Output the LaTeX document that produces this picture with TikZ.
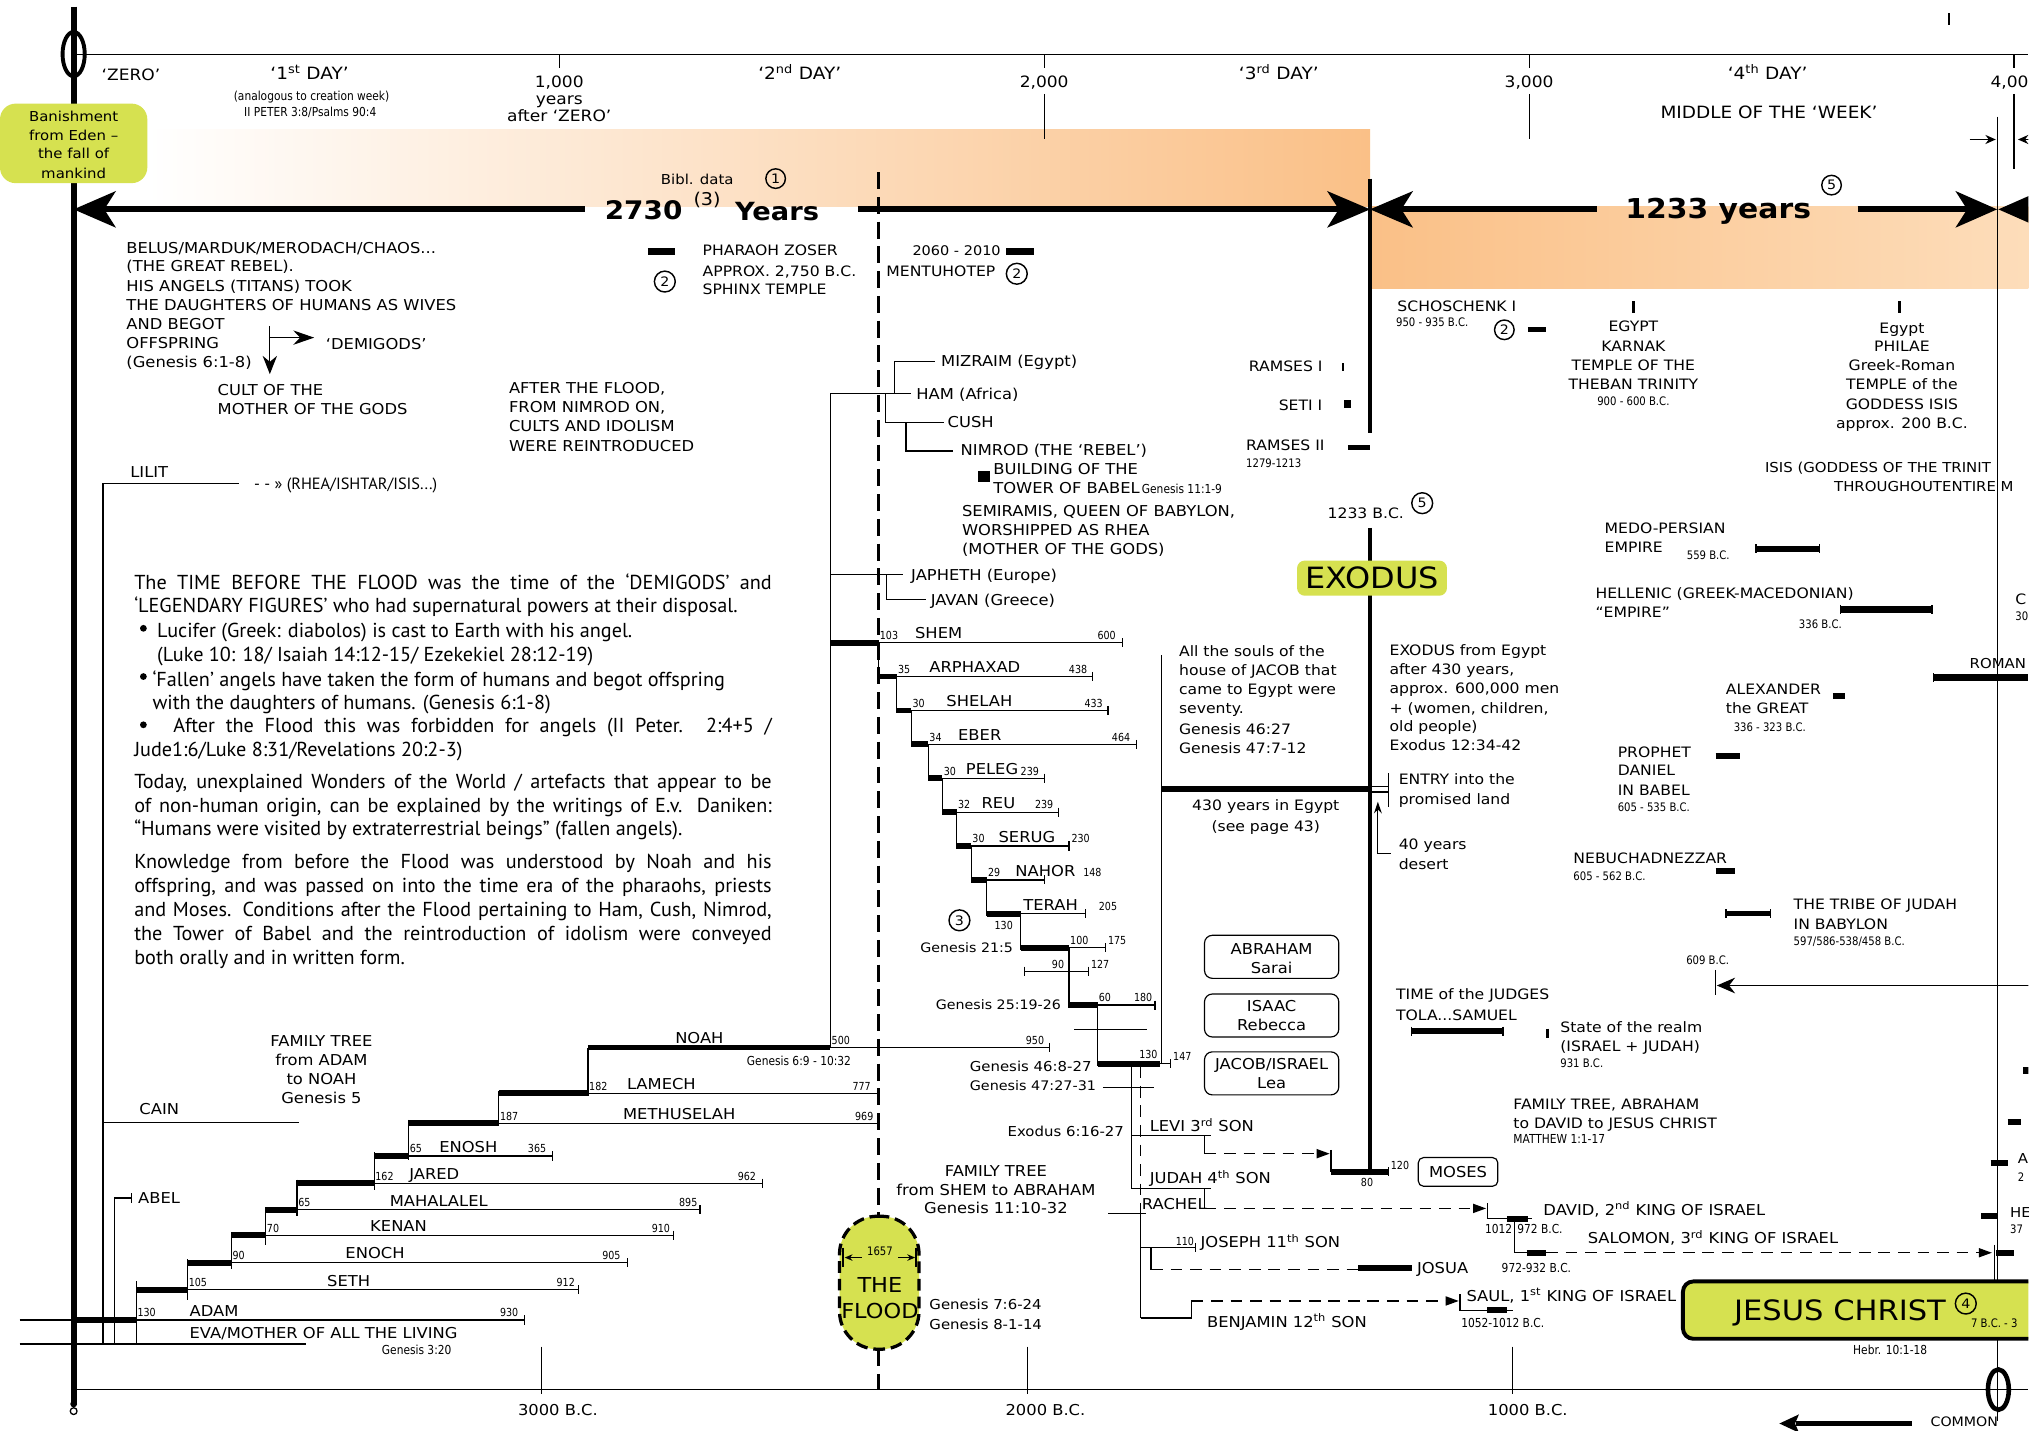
\documentclass[tikz,border=0pt]{standalone}
\usepackage{fontspec}
\usepackage{graphicx}
\setmainfont{DejaVu Sans}
\newfontfamily\comic{DejaVu Sans}[FakeStretch=1.09]
\newfontfamily\comicn{DejaVu Sans}[FakeStretch=0.86]
\newfontfamily\para{PT Sans}
\usetikzlibrary{arrows.meta}
\definecolor{limeg}{RGB}{214,225,80}
\definecolor{orng}{RGB}{250,192,135}
\definecolor{orngl}{RGB}{253,221,186}
\newcounter{nn}
\tikzset{
  lb/.style={inner sep=0pt,outer sep=0pt},
  thinln/.style={line width=0.9pt},
  barln/.style={line width=4.5pt},
  dashln/.style={line width=1pt,dash pattern=on 9pt off 6pt},
  boxr/.style={draw,line width=0.9pt,rounded corners=6pt,minimum width=103pt,minimum height=33pt,inner sep=0pt},
  cnum/.style={circle,draw,line width=1.1pt,inner sep=0pt,font=\comic\fontsize{10}{10}\selectfont},
}
\newcommand\TL[5][\comic]{\stepcounter{nn}\node[lb,anchor=base west,font={#1\fontsize{#2}{#2}\selectfont}] (n\arabic{nn}) at ({#3},{#4+0.36*#2}) {#5};}
\newcommand\TC[5][\comic]{\stepcounter{nn}\node[lb,anchor=base,font={#1\fontsize{#2}{#2}\selectfont}] (n\arabic{nn}) at ({#3},{#4+0.36*#2}) {#5};}
\newcommand\TR[5][\comic]{\stepcounter{nn}\node[lb,anchor=base east,font={#1\fontsize{#2}{#2}\selectfont}] (n\arabic{nn}) at ({#3},{#4+0.36*#2}) {#5};}
\newcommand\PL[3]{\stepcounter{nn}\node[lb,anchor=base west,font=\para\fontsize{15.5}{15.5}\selectfont] (n\arabic{nn}) at ({#1},{#2+4.6}) {#3};}
\newcommand\PJ[4]{\stepcounter{nn}\node[lb,anchor=base west,font=\para\fontsize{15.5}{15.5}\selectfont] (n\arabic{nn}) at ({#1},{#2+4.6}) {\makebox[#3pt][s]{#4}};}
\newcommand\CN[4][15]{\stepcounter{nn}\node[cnum,minimum size=#1pt] (n\arabic{nn}) at (#2,#3) {#4};}
\newcommand\Tk[2]{\draw[thinln] (#1,{#2-3.5}) -- (#1,{#2+3.5});}
\newcommand\Row[9]{%
  \draw[barln] (#1,#4) -- (#2,#4);
  \draw[thinln] (#2,#4) -- (#3,#4) (#3,{#4-3.5}) -- (#3,{#4+3.5});
  \TL[\comicn]{8.5}{#2+1}{#4-5.5}{#5}
  \TL{11.5}{#7}{#4-7}{#6}
  \TL[\comicn]{8.5}{#9}{#4-5.5}{#8}
}
\begin{document}
\begin{tikzpicture}[x=1pt,y=-1pt]
\useasboundingbox (0,0) rectangle (1568,1097);
\fill[white] (0,0) rectangle (1568,1097);
\clip (0,0) rectangle (1556,1097);

% ---------- colour bands
\shade[left color=white,right color=orng] (113,99) rectangle (1051,158.5);
\shade[left color=orng,right color=orngl] (1051,158.5) rectangle (1556,221);

% ---------- top axis
\draw[thinln] (56.5,42) -- (1556,42);
\draw[thinln] (429,42) -- (429,52);
\draw[thinln] (801,42) -- (801,52) (801,72) -- (801,107);
\draw[thinln] (1173,42) -- (1173,52) (1173,72) -- (1173,107);
\draw[thinln] (1545,42) -- (1545,52) (1545,72) -- (1545,130);
\draw[line width=1.8pt] (1495,10) -- (1495,19);
\draw[thinln] (1532,89.5) -- (1532,1090);
\draw[thinln,-{Stealth[length=8pt,width=7pt]}] (1511,107) -- (1531,107);
\draw[thinln,-{Stealth[length=8pt,width=7pt]}] (1568,107) -- (1548,107);

\TC{12}{100.5}{57.5}{‘ZERO’}
\TC{13}{237.5}{56}{‘1\textsuperscript{st} DAY’}
\TC[\comicn]{9.5}{239}{74}{(analogous to creation week)}
\TC[\comicn]{9.5}{238}{86}{II PETER 3:8/Psalms 90:4}
\TC{12}{429}{63}{1,000}
\TC{12}{429}{76}{years}
\TC{12}{429}{89}{after ‘ZERO’}
\TC{13}{613.5}{56}{‘2\textsuperscript{nd} DAY’}
\TC{12}{801}{63}{2,000}
\TC{13}{981}{56}{‘3\textsuperscript{rd} DAY’}
\TC{12}{1173}{63}{3,000}
\TC{13}{1356}{56}{‘4\textsuperscript{th} DAY’}
\TC{13}{1357}{86.4}{MIDDLE OF THE ‘WEEK’}
\TL{12}{1527}{63}{4,00}

% ---------- main left line
\draw[line width=4.5pt] (56.5,5) -- (56.5,1078);
\draw[line width=3pt] (56.5,41.5) ellipse [x radius=8.5,y radius=17];
\fill (56.5,1077) circle (2.6);
\draw[line width=1pt] (56.5,1082.5) circle (2.6);

% ---------- Banishment
\node[fill=limeg,rounded corners=12pt,minimum width=113pt,minimum height=61pt,inner sep=0pt] (ban) at (56.5,110) {};
\TC{10.5}{56.5}{89.5}{Banishment}
\TC{10.5}{56.5}{104}{from Eden –}
\TC{10.5}{56.5}{118}{the fall of}
\TC{10.5}{56.5}{133}{mankind}

% ---------- big arrows
\draw[line width=4.5pt] (78,160.6) -- (449,160.6);
\fill (56.5,160.6) -- (89,146.5) -- (80,160.6) -- (89,174.7) -- cycle;
\draw[line width=4.5pt] (658,160.6) -- (1028,160.6);
\fill (1051,160.6) -- (1018,146.5) -- (1027,160.6) -- (1018,174.7) -- cycle;
\draw[line width=4.5pt] (1074,160.6) -- (1225,160.6);
\fill (1051,160.6) -- (1084,146.5) -- (1075,160.6) -- (1084,174.7) -- cycle;
\draw[line width=4.5pt] (1425,160.6) -- (1510,160.6);
\fill (1532,160.6) -- (1500,146.5) -- (1509,160.6) -- (1500,174.7) -- cycle;
\fill (1533,160.6) -- (1565,146.5) -- (1556,160.6) -- (1565,174.7) -- cycle;
\draw[line width=3.5pt] (1051,137) -- (1051,332) (1051,405) -- (1051,899);

\TL[\comic\bfseries]{19.6}{464}{161}{2730}
\TL{13.5}{532}{153}{(3)}
\TL[\comic\bfseries]{19.2}{564}{162}{Years}
\TL{10.5}{507}{138}{Bibl. data}
\CN{595}{137}{1}
\TC[\comic\bfseries]{21}{1318}{160}{1233 years}
\CN{1405}{142}{5}

% ---------- left texts
\TL{11.5}{97}{190.5}{BELUS/MARDUK/MERODACH/CHAOS...}
\TL{11.5}{97}{204.5}{(THE GREAT REBEL).}
\TL{11.5}{97}{219.4}{HIS ANGELS (TITANS) TOOK}
\TL{11.5}{97}{234}{THE DAUGHTERS OF HUMANS AS WIVES}
\TL{11.5}{97}{248.5}{AND BEGOT}
\TL{11.5}{97}{263}{OFFSPRING}
\TL{11.5}{97}{278}{(Genesis 6:1-8)}
\draw[thinln,-{Stealth[length=14pt,width=11pt]}] (207,250) -- (207,287);
\draw[thinln,-{Stealth[length=16pt,width=11pt]}] (207,259) -- (241,259);
\TL{11.5}{250}{264}{‘DEMIGODS’}
\TL{11.5}{167}{299}{CULT OF THE}
\TL{11.5}{167}{314}{MOTHER OF THE GODS}
\TL{11.5}{390.5}{298}{AFTER THE FLOOD,}
\TL{11.5}{390.5}{312.5}{FROM NIMROD ON,}
\TL{11.5}{390.5}{327}{CULTS AND IDOLISM}
\TL{11.5}{390.5}{342}{WERE REINTRODUCED}
\TL{11.5}{100}{362}{LILIT}
\draw[thinln] (183,371) -- (79,371) -- (79,1031);
\TL[\para]{12.5}{195}{371}{- - » (RHEA/ISHTAR/ISIS...)}

% ---------- paragraph
\PJ{103}{447.5}{489}{The TIME BEFORE THE FLOOD was the time of the ‘DEMIGODS’ and}
\PL{103}{465.4}{‘LEGENDARY FIGURES’ who had supernatural powers at their disposal.}
\fill (110,482) circle (2.6);
\PL{120.6}{484.6}{Lucifer (Greek: diabolos) is cast to Earth with his angel.}
\PL{120.6}{502.5}{(Luke 10: 18/ Isaiah 14:12-15/ Ezekekiel 28:12-19)}
\fill (110,519) circle (2.6);
\PL{117}{521.7}{‘Fallen’ angels have taken the form of humans and begot offspring}
\PL{117}{539.6}{with the daughters of humans. (Genesis 6:1-8)}
\fill (110,556) circle (2.6);
\PJ{133}{557.5}{459}{After the Flood this was forbidden for angels (II Peter. 2:4+5 /}
\PL{103}{575.9}{Jude1:6/Luke 8:31/Revelations 20:2-3)}
\PJ{103}{600.4}{489}{Today, unexplained Wonders of the World / artefacts that appear to be}
\PJ{103}{618.8}{489}{of non-human origin, can be explained by the writings of E.v. Daniken:}
\PL{103}{636.7}{“Humans were visited by extraterrestrial beings” (fallen angels).}
\PJ{103}{661.8}{489}{Knowledge from before the Flood was understood by Noah and his}
\PJ{103}{680.3}{489}{offspring, and was passed on into the time era of the pharaohs, priests}
\PJ{103}{698.1}{489}{and Moses. Conditions after the Flood pertaining to Ham, Cush, Nimrod,}
\PJ{103}{716.5}{489}{the Tower of Babel and the reintroduction of idolism were conveyed}
\PL{103}{735.2}{both orally and in written form.}

% ---------- Adam family tree
\TC{11.5}{246.6}{798.5}{FAMILY TREE}
\TC{11.5}{246.6}{813}{from ADAM}
\TC{11.5}{246.6}{827.7}{to NOAH}
\TC{11.5}{246.6}{842}{Genesis 5}
\TL{11.5}{107}{851}{CAIN}
\draw[thinln] (79,861) -- (229,861);
\draw[thinln] (88,1031) -- (88,919) -- (101,919);
\Tk{101}{919}
\TL{11.5}{106}{919}{ABEL}
\draw[thinln] (15,1031) -- (234.6,1031);
\draw[thinln] (15,1012.6) -- (56.5,1012.6);
\TL{11.5}{145.5}{1023}{EVA/MOTHER OF ALL THE LIVING}
\TL[\comicn]{9.5}{293}{1035.6}{Genesis 3:20}

\Row{56.5}{104.5}{402.4}{1012.6}{130}{ADAM}{145.5}{930}{383.6}
\Row{104.5}{143.8}{443.5}{989.5}{105}{SETH}{251}{912}{427}
\Row{143.8}{177.4}{481.2}{968.6}{90}{ENOCH}{265}{905}{462}
\Row{177.4}{203.8}{516.5}{947.6}{70}{KENAN}{284}{910}{500}
\Row{203.8}{227.8}{537}{928}{65}{MAHALALEL}{299}{895}{521}
\Row{227.8}{287}{585}{907.7}{162}{JARED}{314}{962}{566}
\Row{287}{313.4}{423.7}{886.8}{65}{ENOSH}{337}{365}{405}
\Row{313.4}{382.6}{674}{861.7}{187}{METHUSELAH}{478}{969}{656}
\Row{382.6}{451}{674}{838.7}{182}{LAMECH}{481}{777}{654}
\Row{451}{637}{805}{803.6}{500}{NOAH}{518}{950}{787}
\draw[thinln] (104.5,983) -- (104.5,1031) (143.8,966) -- (143.8,997)
  (177.4,945.6) -- (177.4,973.7) (203.8,926) -- (203.8,955)
  (227.8,905) -- (227.8,933) (287,884) -- (287,913)
  (313.4,859) -- (313.4,889.5) (382.6,837) -- (382.6,864)
  (451,803.6) -- (451,841);
\TL[\comicn]{9.5}{573}{814}{Genesis 6:9 - 10:32}

% ---------- flood line and box
\draw[line width=2.3pt,dash pattern=on 13pt off 6pt] (674,132) -- (674,933) (674,1035) -- (674,1066);
\node[fill=limeg,draw,line width=2.5pt,dash pattern=on 9pt off 4.5pt,rounded corners=29pt,minimum width=61pt,minimum height=102pt,inner sep=0pt] (flood) at (674.5,984) {};
\TC[\comicn]{9}{675}{960}{1657}
\draw[thinln,-{Stealth[length=6pt,width=5pt]}] (661,964.7) -- (648,964.7);
\draw[thinln,-{Stealth[length=6pt,width=5pt]}] (689,964.7) -- (702,964.7);
\draw[line width=1.5pt] (646.5,957) -- (646.5,972) (703,957) -- (703,972);
\TC{15.8}{675}{986}{THE}
\TC{15.8}{675}{1006}{FLOOD}
\TL{10.5}{713}{1001}{Genesis 7:6-24}
\TL{10.5}{713}{1016}{Genesis 8-1-14}

% ---------- top middle
\draw[line width=5pt] (497,193) -- (518,193);
\CN[16]{510}{216}{2}
\TL{11}{539}{192}{PHARAOH ZOSER}
\TL{11}{539}{208}{APPROX. 2,750 B.C.}
\TL{11}{539}{222}{SPHINX TEMPLE}
\TL{10.2}{700}{192}{2060 - 2010}
\draw[line width=5pt] (772,193) -- (793,193);
\TL{11}{680}{208}{MENTUHOTEP}
\CN[16]{780}{210}{2}

% ---------- sons of Noah
\draw[thinln] (637,302) -- (637,803.6);
\draw[thinln] (637,302) -- (699,302);
\draw[thinln] (686,302) -- (686,277) -- (717,277);
\draw[thinln] (679,302) -- (679,324) -- (724,324);
\draw[thinln] (695,324) -- (695,346) -- (731,346);
\TL{11.5}{722}{277}{MIZRAIM (Egypt)}
\TL{11.5}{703}{302}{HAM (Africa)}
\TL{11.5}{727}{324}{CUSH}
\TL{11.5}{737}{345}{NIMROD (THE ‘REBEL’)}
\fill (750,361) rectangle (759.5,370);
\TL{11.5}{762}{360}{BUILDING OF THE}
\TL{11.5}{762}{374.6}{TOWER OF BABEL}
\TL[\comicn]{9.5}{876}{375}{Genesis 11:1-9}
\TL{11.5}{738}{391.8}{SEMIRAMIS, QUEEN OF BABYLON,}
\TL{11.5}{738}{406.6}{WORSHIPPED AS RHEA}
\TL{11.5}{738}{421.4}{(MOTHER OF THE GODS)}
\draw[thinln] (637,441) -- (693,441);
\draw[thinln] (680,441) -- (680,460) -- (710,460);
\TL{11.5}{699}{441}{JAPHETH (Europe)}
\TL{11.5}{714}{460}{JAVAN (Greece)}

% ---------- Shem family tree
\Row{637}{674}{861}{493}{103}{SHEM}{702}{600}{842}
\Row{674}{688}{838}{519}{35}{ARPHAXAD}{713}{438}{820}
\Row{688}{699}{850}{545}{30}{SHELAH}{726}{433}{832}
\Row{699}{712}{872}{571}{34}{EBER}{735}{464}{853}
\Row{712}{723}{801}{597}{30}{PELEG}{741}{239}{783}
\Row{723}{734}{812}{623}{32}{REU}{753}{239}{794}
\Row{734}{745}{820}{649}{30}{SERUG}{766}{230}{822}
\Row{745}{757}{801}{675}{29}{NAHOR}{779}{148}{831}
\Row{757}{783}{833}{701}{}{TERAH}{785}{205}{843}
\TL[\comicn]{8.5}{763}{710}{130}
\Row{783}{820}{848}{727}{100}{}{800}{175}{850}
\draw[thinln] (786,745) -- (835,745);
\Tk{786}{745}
\Tk{835}{745}
\TL[\comicn]{8.5}{807}{740}{90}
\TL[\comicn]{8.5}{837}{740}{127}
\Row{820}{842}{886}{771}{60}{}{800}{180}{870}
\draw[thinln] (824,790) -- (880,790);
\Row{842}{890}{898}{816}{}{}{800}{147}{900}
\TL[\comicn]{8.5}{874}{809}{130}
\draw[thinln] (674,493) -- (674,521) (688,519) -- (688,547) (699,545) -- (699,573)
  (712,571) -- (712,599) (723,597) -- (723,625) (734,623) -- (734,651)
  (745,649) -- (745,677) (757,675) -- (757,703) (783,701) -- (783,729)
  (820,727) -- (820,773) (842,771) -- (842,818);
\CN[16]{736}{706}{3}
\TL{10}{706}{727}{Genesis 21:5}
\TL{10}{718}{771}{Genesis 25:19-26}
\TL{10.5}{744}{818}{Genesis 46:8-27}
\TL{10.1}{744}{833}{Genesis 47:27-31}
\draw[thinln] (846,834) -- (885,834);
\TL{10.5}{773}{868}{Exodus 6:16-27}
\TC{11.5}{764}{898}{FAMILY TREE}
\TC{11.5}{764}{913}{from SHEM to ABRAHAM}
\TC{11.5}{764}{927}{Genesis 11:10-32}

% ---------- boxes Abraham Isaac Jacob
\node[boxr] (abr) at (975.5,734) {};
\TC{11.5}{975.5}{728}{ABRAHAM}
\TC{11.5}{975.5}{743}{Sarai}
\node[boxr] (isa) at (975.5,779) {};
\TC{11.5}{975.5}{771.7}{ISAAC}
\TC{11.5}{975.5}{786}{Rebecca}
\node[boxr] (jac) at (975.5,823.4) {};
\TC{11.5}{975.5}{816.5}{JACOB/ISRAEL}
\TC{11.5}{975.5}{831}{Lea}

% ---------- Egypt / Exodus column
\draw[thinln] (891,502.5) -- (891,816);
\draw[barln] (891,605) -- (1051,605);
\TL{11}{904.5}{500}{All the souls of the}
\TL{11}{904.5}{514.5}{house of JACOB that}
\TL{11}{904.5}{529}{came to Egypt were}
\TL{11}{904.5}{543.4}{seventy.}
\TL{11}{904.5}{559.5}{Genesis 46:27}
\TL{11}{904.5}{574}{Genesis 47:7-12}
\TC{11}{971}{618}{430 years in Egypt}
\TC{11}{971}{634}{(see page 43)}
\draw[thinln] (1051,603.5) -- (1065,603.5) (1051,607.5) -- (1065,607.5) (1065,593) -- (1065,619);
\draw[thinln,-{Stealth[length=9pt,width=6pt]}] (1067,655) -- (1057,655) -- (1057,615);
\TL{11}{1073}{598}{ENTRY into the}
\TL{11}{1073}{613}{promised land}
\TL{11}{1073}{648}{40 years}
\TL{11}{1073}{663}{desert}
\TL{11}{1066}{499}{EXODUS from Egypt}
\TL{11}{1066}{513.5}{after 430 years,}
\TL{11}{1066}{528}{approx. 600,000 men}
\TL{11}{1066}{543}{+ (women, children,}
\TL{11}{1066}{557.5}{old people)}
\TL{11}{1066}{571.5}{Exodus 12:34-42}
\node[fill=limeg,rounded corners=6pt,minimum width=115pt,minimum height=27pt,inner sep=0pt] (exo) at (1052.5,443.5) {};
\TC{22.5}{1052.5}{443.5}{EXODUS}
\TR{11}{1077}{394}{1233 B.C.}
\CN[16]{1091}{386}{5}

% ---------- pharaohs
\TL{11}{958}{281}{RAMSES I}
\draw[line width=1.6pt] (1030,278.5) -- (1030,284.5);
\TL{11}{981}{311}{SETI I}
\fill (1031,307) rectangle (1036,313);
\TL{11}{956}{342}{RAMSES II}
\TL[\comicn]{9}{956}{355.5}{1279-1213}
\draw[line width=4pt] (1034,343) -- (1051,343);

% ---------- right column, top
\TL{11}{1072}{235}{SCHOSCHENK I}
\TL[\comicn]{9}{1071}{247.5}{950 - 935 B.C.}
\CN[15]{1154}{253}{2}
\draw[line width=4pt] (1172,253) -- (1186,253);
\draw[line width=1.8pt] (1253,231) -- (1253,240);
\TC{11}{1253}{250.6}{EGYPT}
\TC{11}{1253}{266}{KARNAK}
\TC{11}{1253}{280.5}{TEMPLE OF THE}
\TC{11}{1253}{295}{THEBAN TRINITY}
\TC[\comicn]{9}{1253}{308}{900 - 600 B.C.}
\draw[line width=1.8pt] (1457,231) -- (1457,240);
\TC{11}{1459}{252}{Egypt}
\TC{11}{1459}{266}{PHILAE}
\TC{11}{1459}{280.5}{Greek-Roman}
\TC{11}{1459}{295}{TEMPLE of the}
\TC{11}{1459}{310}{GODDESS ISIS}
\TC{11}{1459}{325}{approx. 200 B.C.}
\TL{10.5}{1354}{359}{ISIS (GODDESS OF THE TRINIT}
\TL{10.5}{1407}{373}{THROUGHOUTENTIRE M}

% ---------- empires
\TL{11}{1231}{405}{MEDO-PERSIAN}
\TL{11}{1231}{420}{EMPIRE}
\TL[\comicn]{9}{1294}{426}{559 B.C.}
\draw[line width=4.5pt] (1347,421) -- (1396,421);
\Tk{1347}{421}\Tk{1396}{421}
\TL{11}{1224}{455}{HELLENIC (GREEK-MACEDONIAN)}
\TL{11}{1224}{469.6}{“EMPIRE”}
\TL[\comicn]{9}{1380}{479}{336 B.C.}
\draw[line width=5.5pt] (1412,467.5) -- (1482,467.5);
\Tk{1412}{467.5}\Tk{1482}{467.5}
\TL{11}{1546}{460}{C}
\TL[\comicn]{9}{1546}{473}{30}
\TL{10.5}{1511}{509}{ROMAN}
\draw[line width=5.5pt] (1483,520) -- (1556,520);
\Tk{1483}{520}
\TL{11}{1324}{529}{ALEXANDER}
\TL{11}{1324}{543}{the GREAT}
\draw[line width=5pt] (1406,534) -- (1415,534);
\TL[\comicn]{9}{1330}{558}{336 - 323 B.C.}
\TL{11}{1241}{577}{PROPHET}
\TL{11}{1241}{591}{DANIEL}
\TL{11}{1241}{606}{IN BABEL}
\TL[\comicn]{9}{1241}{619}{605 - 535 B.C.}
\draw[line width=5pt] (1316,580) -- (1335,580);
\TL{11}{1207}{658.5}{NEBUCHADNEZZAR}
\TL[\comicn]{9}{1207}{672}{605 - 562 B.C.}
\draw[line width=5pt] (1316,668) -- (1331,668);
\TL{11}{1376}{694}{THE TRIBE OF JUDAH}
\TL{11}{1376}{709}{IN BABYLON}
\TL[\comicn]{9}{1376}{722}{597/586-538/458 B.C.}
\draw[line width=4pt] (1324,701) -- (1358,701);
\Tk{1324}{701}\Tk{1358}{701}
\TC[\comicn]{9}{1310}{737}{609 B.C.}
\draw[thinln] (1316,744) -- (1316,763);
\draw[line width=1.3pt,-{Stealth[length=14pt,width=12pt]}] (1568,756) -- (1317,756);
\TL{11}{1071}{763}{TIME of the JUDGES}
\TL{11}{1071}{779}{TOLA...SAMUEL}
\draw[line width=4.5pt] (1083,791) -- (1153,791);
\Tk{1083}{791}\Tk{1153}{791}
\draw[line width=2pt] (1187,789) -- (1187,796);
\TL{11}{1197}{788}{State of the realm}
\TL{11}{1197}{803}{(ISRAEL + JUDAH)}
\TL[\comicn]{9}{1197}{816}{931 B.C.}
\TL{11}{1161}{847}{FAMILY TREE, ABRAHAM}
\TL{11}{1161}{862}{to DAVID to JESUS CHRIST}
\TL[\comicn]{9.5}{1161}{874}{MATTHEW 1:1-17}

% right edge fragments
\draw[line width=5pt] (1552,821) -- (1557,821);
\draw[line width=4.5pt] (1540,861) -- (1550,861);
\draw[line width=4.5pt] (1527,892) -- (1540,892);
\TL{10.5}{1548}{889}{A}
\TL[\comicn]{9}{1548}{903}{2}
\draw[line width=4.5pt] (1520,933) -- (1533,933);
\TL{10.5}{1542}{930}{HE}
\TL[\comicn]{9}{1542}{943}{37}

% ---------- Jacob's sons
\draw[thinln] (868,816) -- (868,912);
\draw[dashln] (875,818) -- (875,931);
\draw[thinln] (875,931) -- (875,1011);
\draw[thinln] (850,931) -- (879,931);
\draw[thinln] (868,871) -- (929,871) (924,871) -- (924,885);
\draw[dashln,-{Triangle[length=10pt,width=7pt]}] (924,885) -- (1020,885);
\draw[thinln] (1021,882) -- (1021,899);
\draw[barln] (1021,899) -- (1065,899);
\Tk{1065}{899}
\TL[\comicn]{8.5}{1044}{907}{80}
\TL[\comicn]{8.5}{1067}{894}{120}
\node[draw,line width=0.9pt,rounded corners=4pt,minimum width=61pt,minimum height=22pt,inner sep=0pt] (mos) at (1118.5,899) {};
\TC{11.5}{1118.5}{899}{MOSES}
\TL{11.5}{882}{864}{LEVI 3\textsuperscript{rd} SON}
\draw[thinln] (868,912) -- (929,912) (924,912) -- (924,927);
\TL{11.5}{882}{904}{JUDAH 4\textsuperscript{th} SON}
\draw[dashln,-{Triangle[length=10pt,width=7pt]}] (924,927) -- (1140,927);
\draw[thinln] (1141,923) -- (1141,935) -- (1175,935);
\draw[barln] (1156,935) -- (1172,935);
\TL{11.5}{1184}{928}{DAVID, 2\textsuperscript{nd} KING OF ISRAEL}
\TR[\comicn]{9.5}{1160}{943}{1012}
\TL[\comicn]{9.5}{1164}{943}{972 B.C.}
\draw[thinln] (1162,935) -- (1162,961) -- (1186,961);
\draw[barln] (1171,961) -- (1186,961);
\draw[dashln,-{Triangle[length=10pt,width=7pt]}] (1186,961) -- (1528,961);
\draw[barln] (1531,961) -- (1545,961);
\draw[thinln] (1530,955) -- (1530,983);
\TL{11.5}{1218}{950}{SALOMON, 3\textsuperscript{rd} KING OF ISRAEL}
\TL[\comicn]{9.5}{1152}{973}{972-932 B.C.}
\TL{11.5}{876}{924}{RACHEL}
\draw[thinln] (875,957) -- (917,957) (883,957) -- (883,974);
\Tk{917}{957}
\TL[\comicn]{8.5}{902}{952}{110}
\TL{11.5}{921}{953}{JOSEPH 11\textsuperscript{th} SON}
\draw[dashln] (883,974) -- (1042,974);
\draw[barln] (1042,973) -- (1083,973);
\TL{11.5}{1087}{973}{JOSUA}
\draw[thinln] (875,1011) -- (914,1011) -- (914,998);
\draw[dashln,-{Triangle[length=10pt,width=7pt]}] (914,998) -- (1119,998);
\draw[thinln] (1120,993) -- (1120,1005) -- (1161,1005);
\draw[barln] (1141,1005) -- (1156,1005);
\TL{11.5}{1125}{994}{SAUL, 1\textsuperscript{st} KING OF ISRAEL}
\TL[\comicn]{9.5}{1121}{1015}{1052-1012 B.C.}
\TL{11.5}{926}{1014}{BENJAMIN 12\textsuperscript{th} SON}

% ---------- Jesus Christ
\node[fill=limeg,draw,line width=3pt,rounded corners=8pt,minimum width=290pt,minimum height=44pt,inner sep=0pt] (jes) at (1436,1005) {};
\TC{21.5}{1411.5}{1005}{JESUS CHRIST}
\CN[16]{1508}{1000}{4}
\TL[\comicn]{9}{1512}{1015}{7 B.C. - 3}
\TC[\comicn]{9.5}{1450}{1036}{Hebr. 10:1-18}

% ---------- bottom axis
\draw[thinln] (56.5,1066) -- (1556,1066);
\draw[thinln] (415.5,1033) -- (415.5,1069) (788,1033) -- (788,1069) (1160,1033) -- (1160,1069);
\TC{11.5}{428}{1081.6}{3000 B.C.}
\TC{11.5}{802}{1082}{2000 B.C.}
\TC{11.5}{1172}{1082}{1000 B.C.}
\draw[line width=3.5pt] (1533,1066) ellipse [x radius=8,y radius=15.5];
\draw[line width=4.5pt] (1378,1092) -- (1467,1092);
\fill (1365,1092) -- (1380,1085) -- (1377,1092) -- (1380,1099) -- cycle;
\TL{10}{1481}{1091}{COMMON}
\end{tikzpicture}
\end{document}
